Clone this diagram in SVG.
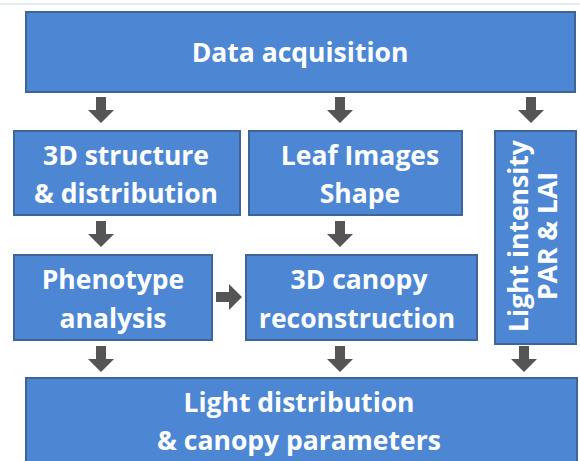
<svg xmlns="http://www.w3.org/2000/svg" width="580" height="461" viewBox="0 0 580 461">
<defs>
<style>
.box{fill:#4d87d3;stroke:#3e6596;stroke-width:2}
.t{font-family:"Open Sans","Liberation Sans",sans-serif;font-weight:700;fill:#ffffff;text-anchor:middle;font-size:26.5px}
.arr{fill:#555555}
</style>
<path id="ad" d="M-5,0 H5 V13 H13 L0,26 L-13,13 H-5 Z"/>
</defs>
<rect width="580" height="461" fill="#ffffff"/>
<line x1="0" y1="4" x2="580" y2="4" stroke="#e3eaf0" stroke-width="2"/>
<g id="data-acquisition">
<rect class="box" x="26" y="12" width="549" height="80"/>
<text class="t" x="300" y="62">Data acquisition</text>
</g>
<g id="structure">
<rect class="box" x="14" y="131" width="226" height="84"/>
<text class="t" x="126" y="165">3D structure</text>
<text class="t" x="126" y="203">&amp; distribution</text>
</g>
<g id="leaf">
<rect class="box" x="249" y="131" width="213" height="84"/>
<text class="t" x="360" y="165">Leaf Images</text>
<text class="t" x="360" y="203">Shape</text>
</g>
<g id="light-intensity">
<rect class="box" x="495" y="131" width="81" height="213"/>
<text class="t" transform="translate(528,236) rotate(-90)">Light intensity</text>
<text class="t" transform="translate(557,236) rotate(-90)">PAR &amp; LAI</text>
</g>
<g id="phenotype">
<rect class="box" x="14" y="255" width="198" height="85"/>
<text class="t" x="113" y="289">Phenotype</text>
<text class="t" x="113" y="328">analysis</text>
</g>
<g id="canopy">
<rect class="box" x="246" y="255" width="231" height="85"/>
<text class="t" x="359" y="289">3D canopy</text>
<text class="t" x="357" y="328">reconstruction</text>
</g>
<g id="light-distribution">
<rect class="box" x="26" y="378" width="551" height="90"/>
<text class="t" x="299" y="412">Light distribution</text>
<text class="t" x="299" y="450">&amp; canopy parameters</text>
</g>
<g id="connectors" class="arr">
<use href="#ad" x="101" y="97"/>
<use href="#ad" x="340" y="97"/>
<use href="#ad" x="531" y="97"/>
<use href="#ad" x="101" y="221"/>
<use href="#ad" x="340" y="221"/>
<use href="#ad" transform="translate(216,297) rotate(-90)"/>
<use href="#ad" x="101" y="346"/>
<use href="#ad" x="340" y="346"/>
<use href="#ad" x="524" y="346"/>
</g>
</svg>
